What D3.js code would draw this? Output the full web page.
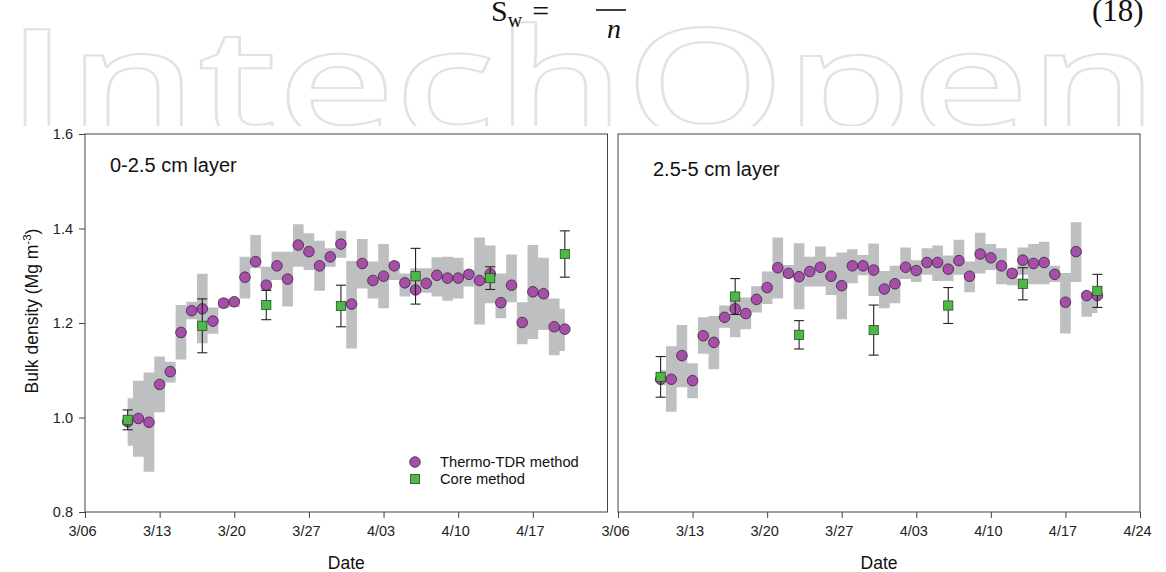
<!DOCTYPE html>
<html>
<head>
<meta charset="utf-8">
<script src="https://cdn.jsdelivr.net/npm/d3@7"></script>
<style>
  body { margin: 0; background: #fff; }
  svg { display: block; font-family: "Liberation Sans", Arial, sans-serif; }
</style>
</head>
<body>
<div id="chart"></div>
<script>
// daily thermo-TDR dates (both layers)
const tdrDates = ["3/10", "3/11", "3/12", "3/13", "3/14", "3/15", "3/16", "3/17", "3/18", "3/19",
    "3/20", "3/21", "3/22", "3/23", "3/24", "3/25", "3/26", "3/27", "3/28", "3/29",
    "3/30", "3/31", "4/01", "4/02", "4/03", "4/04", "4/05", "4/06", "4/07", "4/08",
    "4/09", "4/10", "4/11", "4/12", "4/13", "4/14", "4/15", "4/16", "4/17", "4/18",
    "4/19", "4/20"];

// 0-2.5 cm layer
const tdrTop = [0.991, 0.998, 0.990, 1.070, 1.097, 1.180, 1.226, 1.230, 1.204, 1.242,
    1.245, 1.297, 1.330, 1.280, 1.321, 1.293, 1.365, 1.351, 1.321, 1.340,
    1.367, 1.240, 1.326, 1.290, 1.299, 1.321, 1.285, 1.270, 1.284, 1.301,
    1.295, 1.295, 1.303, 1.290, 1.304, 1.243, 1.280, 1.201, 1.266, 1.262,
    1.192, 1.187];
const tdrTopLow = [0.940, 0.917, 0.885, 1.011, 1.074, 1.123, 1.208, 1.157, 1.177, 1.231,
    1.234, 1.252, 1.316, 1.270, 1.291, 1.235, 1.319, 1.312, 1.268, 1.319,
    1.338, 1.146, 1.273, 1.252, 1.231, 1.291, 1.256, 1.263, 1.264, 1.256,
    1.247, 1.252, 1.277, 1.197, 1.242, 1.210, 1.244, 1.155, 1.166, 1.185,
    1.132, 1.141];
const tdrTopHigh = [1.041, 1.078, 1.095, 1.129, 1.118, 1.238, 1.245, 1.304, 1.233, 1.252,
    1.252, 1.340, 1.386, 1.319, 1.351, 1.351, 1.409, 1.390, 1.374, 1.358,
    1.395, 1.331, 1.378, 1.330, 1.367, 1.330, 1.305, 1.316, 1.316, 1.339,
    1.340, 1.338, 1.312, 1.381, 1.364, 1.305, 1.345, 1.244, 1.365, 1.338,
    1.252, 1.230];

// 2.5-5 cm layer
const tdrSub = [1.081, 1.081, 1.131, 1.078, 1.173, 1.159, 1.212, 1.230, 1.220, 1.250,
    1.275, 1.317, 1.305, 1.298, 1.309, 1.318, 1.299, 1.279, 1.321, 1.321,
    1.312, 1.272, 1.283, 1.318, 1.311, 1.328, 1.328, 1.314, 1.332, 1.299,
    1.346, 1.338, 1.321, 1.305, 1.333, 1.326, 1.328, 1.303, 1.244, 1.351,
    1.258, 1.258];
const tdrSubLow = [1.068, 1.012, 1.064, 1.041, 1.135, 1.102, 1.190, 1.170, 1.187, 1.222,
    1.240, 1.252, 1.295, 1.229, 1.277, 1.277, 1.259, 1.208, 1.284, 1.301,
    1.257, 1.231, 1.242, 1.293, 1.287, 1.302, 1.289, 1.289, 1.302, 1.265,
    1.305, 1.312, 1.282, 1.280, 1.302, 1.282, 1.282, 1.287, 1.178, 1.287,
    1.213, 1.221];
const tdrSubHigh = [1.100, 1.151, 1.196, 1.115, 1.212, 1.215, 1.237, 1.254, 1.254, 1.278,
    1.309, 1.381, 1.323, 1.369, 1.340, 1.362, 1.340, 1.349, 1.356, 1.344,
    1.368, 1.310, 1.321, 1.360, 1.333, 1.358, 1.364, 1.343, 1.376, 1.330,
    1.391, 1.367, 1.358, 1.316, 1.360, 1.367, 1.372, 1.321, 1.306, 1.413,
    1.266, 1.266];

// core method (mean +/- sd)
const coreDates = ["3/10", "3/17", "3/23", "3/30", "4/06", "4/13", "4/20"];
const coreTop = [0.995, 1.194, 1.238, 1.236, 1.299, 1.295, 1.346];
const coreTopSd = [0.021, 0.057, 0.031, 0.044, 0.059, 0.024, 0.049];
const coreSub = [1.086, 1.256, 1.175, 1.185, 1.237, 1.283, 1.268];
const coreSubSd = [0.043, 0.038, 0.030, 0.053, 0.038, 0.034, 0.035];

const xTickLabels = ["3/06", "3/13", "3/20", "3/27", "4/03", "4/10", "4/17", "4/24"];
const yTicks = [0.8, 1.0, 1.2, 1.4, 1.6];
const panelTitles = ["0-2.5 cm layer", "2.5-5 cm layer"];
const legendLabels = ["Thermo-TDR method", "Core method"];

const width = 1166, height = 572;
const plotTop = 134, plotBottom = 512;
const tdrColor = "#a64fa8", coreColor = "#4cb944", bandColor = "#bebfc1", axisColor = "#444";

const parseDay = d3.utcParse("%m/%d");

const svg = d3.select("#chart")
    .append("svg")
    .attr("width", width)
    .attr("height", height);

// header remains: watermark + equation fragment
svg.append("clipPath").attr("id", "head")
    .append("rect").attr("x", 0).attr("y", 0).attr("width", width).attr("height", 126);

svg.append("text")
    .attr("clip-path", "url(#head)")
    .attr("x", 6)
    .attr("y", 138)
    .attr("textLength", 1152)
    .attr("lengthAdjust", "spacingAndGlyphs")
    .attr("fill", "#fff")
    .attr("stroke", "#e2e2e2")
    .attr("stroke-width", 2)
    .style("font-family", "'Open Sans', sans-serif")
    .style("font-weight", 600)
    .style("font-size", "152px")
    .text("IntechOpen");

const eq = svg.append("g").style("font-family", "'Liberation Serif', 'DejaVu Serif', serif").attr("fill", "#111");
const eqLeft = eq.append("text").attr("x", 491).attr("y", 21).style("font-size", "30px");
eqLeft.append("tspan").text("S");
eqLeft.append("tspan").attr("dy", 6).style("font-size", "20px").text("w");
eqLeft.append("tspan").attr("dy", -6).attr("dx", 10).text("=");
eq.append("line").attr("x1", 596).attr("x2", 626).attr("y1", 10).attr("y2", 10)
    .attr("stroke", "#111").attr("stroke-width", 1.6);
eq.append("text").attr("x", 607).attr("y", 38).style("font-size", "28px").style("font-style", "italic").text("n");
eq.append("text").attr("x", 1092).attr("y", 21).style("font-size", "31px").text("(18)");

const y = d3.scaleLinear()
    .domain([0.8, 1.6])
    .range([plotBottom, plotTop]);

const panels = [
    {x0: 85, x1: 607.5, tdr: tdrTop, low: tdrTopLow, high: tdrTopHigh, core: coreTop, sd: coreTopSd,
        title: panelTitles[0], titleX: 110, titleY: 172, ticks: xTickLabels.slice(0, 7), yAxis: true, legend: true},
    {x0: 618, x1: 1140, tdr: tdrSub, low: tdrSubLow, high: tdrSubHigh, core: coreSub, sd: coreSubSd,
        title: panelTitles[1], titleX: 653, titleY: 176, ticks: xTickLabels, yAxis: false, legend: false}
];

panels.forEach(p => {
    const x = d3.scaleUtc()
        .domain([parseDay(xTickLabels[0]), parseDay(xTickLabels[xTickLabels.length - 1])])
        .range([p.x0, p.x1]);

    const g = svg.append("g");

    g.append("rect")
        .attr("x", p.x0).attr("y", plotTop)
        .attr("width", p.x1 - p.x0).attr("height", plotBottom - plotTop)
        .attr("fill", "#fff");

    const rows = tdrDates.map((d, i) => ({date: parseDay(d), v: p.tdr[i], lo: p.low[i], hi: p.high[i]}));
    const cores = coreDates.map((d, i) => ({date: parseDay(d), v: p.core[i], sd: p.sd[i]}));

    // min-max range of the thermo-TDR sensors
    g.append("path")
        .datum(rows)
        .attr("fill", bandColor)
        .attr("d", d3.area()
            .curve(d3.curveStep)
            .x(d => x(d.date))
            .y0(d => y(d.lo))
            .y1(d => y(d.hi)));

    g.selectAll(".tdr")
        .data(rows)
        .join("circle")
        .attr("class", "tdr")
        .attr("cx", d => x(d.date))
        .attr("cy", d => y(d.v))
        .attr("r", 5.3)
        .attr("fill", tdrColor)
        .attr("stroke", "#3b2040")
        .attr("stroke-width", 0.8);

    const err = g.selectAll(".err")
        .data(cores)
        .join("g")
        .attr("class", "err")
        .attr("stroke", "#222")
        .attr("stroke-width", 1.1);
    err.append("line")
        .attr("x1", d => x(d.date)).attr("x2", d => x(d.date))
        .attr("y1", d => y(d.v - d.sd)).attr("y2", d => y(d.v + d.sd));
    err.append("line")
        .attr("x1", d => x(d.date) - 5).attr("x2", d => x(d.date) + 5)
        .attr("y1", d => y(d.v + d.sd)).attr("y2", d => y(d.v + d.sd));
    err.append("line")
        .attr("x1", d => x(d.date) - 5).attr("x2", d => x(d.date) + 5)
        .attr("y1", d => y(d.v - d.sd)).attr("y2", d => y(d.v - d.sd));

    g.selectAll(".core")
        .data(cores)
        .join("rect")
        .attr("class", "core")
        .attr("x", d => x(d.date) - 4.6)
        .attr("y", d => y(d.v) - 4.6)
        .attr("width", 9.2)
        .attr("height", 9.2)
        .attr("fill", coreColor)
        .attr("stroke", "#2d4a2a")
        .attr("stroke-width", 0.8);

    // frame + axes
    g.append("rect")
        .attr("x", p.x0).attr("y", plotTop)
        .attr("width", p.x1 - p.x0).attr("height", plotBottom - plotTop)
        .attr("fill", "none")
        .attr("stroke", axisColor)
        .attr("stroke-width", 1);

    const xAxis = g.append("g")
        .attr("transform", `translate(0, ${plotBottom})`)
        .call(d3.axisBottom(x)
            .tickValues(p.ticks.map(parseDay))
            .tickFormat((d, i) => p.ticks[i])
            .tickSize(6)
            .tickPadding(8));
    xAxis.select(".domain").remove();
    xAxis.selectAll("line").attr("stroke", axisColor);
    xAxis.selectAll("text")
        .attr("fill", "#222")
        .attr("dx", "-3")
        .style("font-family", "'Liberation Sans', Arial, sans-serif")
        .style("font-size", "14.5px");

    if (p.yAxis) {
        const yAxis = g.append("g")
            .attr("transform", `translate(${p.x0}, 0)`)
            .call(d3.axisLeft(y)
                .tickValues(yTicks)
                .tickFormat(d3.format(".1f"))
                .tickSize(6)
                .tickPadding(6));
        yAxis.select(".domain").remove();
        yAxis.selectAll("line").attr("stroke", axisColor);
        yAxis.selectAll("text")
            .attr("fill", "#222")
            .style("font-family", "'Liberation Sans', Arial, sans-serif")
            .style("font-size", "14.5px");
    }

    g.append("text")
        .attr("x", p.titleX)
        .attr("y", p.titleY)
        .attr("fill", "#111")
        .style("font-size", "20px")
        .text(p.title);

    g.append("text")
        .attr("x", (p.x0 + p.x1) / 2)
        .attr("y", 569)
        .attr("text-anchor", "middle")
        .attr("fill", "#111")
        .style("font-size", "17.5px")
        .text("Date");

    if (p.legend) {
        g.append("circle")
            .attr("cx", 415).attr("cy", 462).attr("r", 5.3)
            .attr("fill", tdrColor).attr("stroke", "#3b2040").attr("stroke-width", 0.8);
        g.append("rect")
            .attr("x", 410.4).attr("y", 474.4).attr("width", 9.2).attr("height", 9.2)
            .attr("fill", coreColor).attr("stroke", "#2d4a2a").attr("stroke-width", 0.8);
        g.selectAll(".leg")
            .data(legendLabels)
            .join("text")
            .attr("class", "leg")
            .attr("x", 440)
            .attr("y", (d, i) => 467 + i * 17)
            .attr("fill", "#111")
            .style("font-size", "14.7px")
            .text(d => d);
    }
});

// y axis title
const yTitle = svg.append("text")
    .attr("transform", "translate(38, 311) rotate(-90)")
    .attr("text-anchor", "middle")
    .attr("fill", "#111")
    .style("font-size", "17.5px");
yTitle.append("tspan").text("Bulk density (Mg m");
yTitle.append("tspan").attr("dy", -7).style("font-size", "11.5px").text("-3");
yTitle.append("tspan").attr("dy", 7).text(")");
</script>
</body>
</html>
